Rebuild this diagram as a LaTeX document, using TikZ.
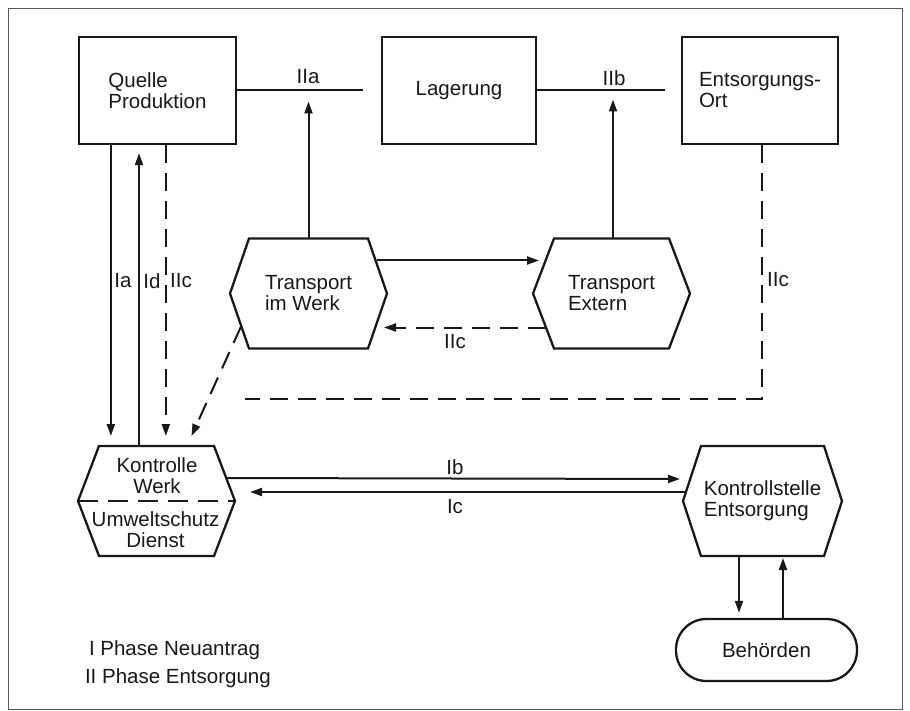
\documentclass[tikz,border=0pt]{standalone}
\usepackage{fontspec}
\setmainfont{Liberation Sans}
\usetikzlibrary{arrows.meta,calc}
\definecolor{ink}{RGB}{25,25,25}
\newcommand\dgfont{\fontsize{20.5}{21}\selectfont}
\newcommand\hexoutline[2]{\draw[line width=2.3pt, line join=miter] ($(#1.north west)+(#2,0)$) -- ($(#1.north east)+(-#2,0)$) -- (#1.east) -- ($(#1.south east)+(-#2,0)$) -- ($(#1.south west)+(#2,0)$) -- (#1.west) -- cycle;}
\begin{document}
\begin{tikzpicture}[x=1pt,y=-1pt, ink, line width=2pt,
  box/.style={draw, line width=2.3pt, minimum width=#1, minimum height=107pt, inner sep=0pt, align=left, font=\dgfont},
  hexbox/.style={minimum width=#1, minimum height=108pt, inner sep=0pt, align=left, font=\dgfont},
  lbl/.style={inner sep=0pt, font=\dgfont},
  arr/.style={-{Triangle[length=12pt,width=8pt]}},
  dsh/.style={dash pattern=on 18pt off 10pt}]
\useasboundingbox (0,0) rectangle (910,711);
\fill[white] (0,0) rectangle (910,711);
\draw[line width=0.8pt, black!65] (8,8) rectangle (902,709);

% boxes
\node[box=157pt] (q) at (157.5,90.5) {Quelle\\Produktion};
\node[box=154pt] (l) at (459,90.5) {Lagerung};
\node[box=156pt] (e) at (760,90.5) {Entsorgungs-\\Ort};

% hexagons
\node[hexbox=155pt] (tw) at (308.5,293.5) {Transport\\im Werk};
\hexoutline{tw}{19}
\node[hexbox=155pt] (te) at (611.5,293.5) {Transport\\Extern};
\hexoutline{te}{21}
\node[hexbox=155pt] (kw) at (156.5,501) {};
\hexoutline{kw}{21}
\node[lbl, align=center] (kwt) at (157,475.5) {Kontrolle\\Werk};
\node[lbl, align=center] (kwb) at (155.5,530) {Umweltschutz\\Dienst};
\draw[line width=2.2pt, dash pattern=on 20pt off 10pt] (kw.west) -- (kw.east);
\node[hexbox=157pt] (ks) at (762.5,501) {Kontrollstelle\\Entsorgung};
\hexoutline{ks}{18}

\node[draw, line width=2.3pt, rounded corners=30.5pt, minimum width=181pt, minimum height=62pt, inner sep=0pt, font=\dgfont] (b) at (766.5,650) {Behörden};

% top lines
\coordinate (endIIa) at (363,90.5);
\coordinate (endIIb) at (665,90.5);
\draw (q.east) -- (endIIa);
\draw (l.east) -- (endIIb);
\node[lbl] (lIIa) at (308,77) {IIa};
\node[lbl] (lIIb) at (614,78) {IIb};
\draw[arr, shorten >=11pt] (tw.north) -- (tw.north |- endIIa);
\draw[arr, shorten >=9pt] ($(te.north)+(1.5,0)$) coordinate (teup) -- (teup |- endIIb);

% transport arrows
\draw[arr] ($(tw.north east)+(-10,22)$) -- ($(te.north west)+(6,22)$);
\draw[arr, dsh] ($(te.south west)+(13,-21)$) -- ($(tw.south east)+(-3,-21)$);
\node[lbl] (lIIc2) at (455,342) {IIc};

% Quelle <-> Kontrolle Werk
\draw[arr, shorten >=10pt] ($(q.south west)+(33,0)$) coordinate (xa) -- (xa |- kw.north);
\draw[arr, shorten >=8pt] ($(kw.north west)+(61,0)$) coordinate (xd) -- (xd |- q.south);
\draw[arr, dsh, shorten >=10pt] ($(q.south west)+(88,0)$) coordinate (xc) -- (xc |- kw.north);
\node[lbl] (lIa) at (123,281) {Ia};
\node[lbl] (lId) at (152,281) {Id};
\node[lbl] (lIIc1) at (181,281) {IIc};
\draw[arr, dsh] ($(tw.south west)+(11,-22)$) -- ($(kw.north)+(35,-10)$);

% Entsorgungs-Ort dashed return
\coordinate (dashend) at (245,399);
\draw[dsh] ($(e.south)+(2,0)$) |- (dashend);
\node[lbl] (lIIc3) at (778,280) {IIc};

% Kontrolle Werk <-> Kontrollstelle
\draw[arr] ($(kw.north east)+(-9,32)$) -- ($(ks.west)+(-3,-22)$);
\draw[arr] ($(ks.west)+(2,-9)$) -- ($(kw.east)+(15,-9)$);
\node[lbl] (lIb) at (455,467) {Ib};
\node[lbl] (lIc) at (455,507) {Ic};

% Kontrollstelle <-> Behoerden
\draw[arr, shorten >=5pt] ($(ks.south)+(-23.5,0)$) coordinate (xs) -- (xs |- b.north);
\draw[arr, shorten >=2pt] ($(b.north)+(16.5,0)$) coordinate (xb) -- (xb |- ks.south);

% legend
\node[lbl, anchor=west] (leg1) at (88,650) {I Phase Neuantrag};
\node[lbl, anchor=west] (leg2) at (84,678) {II Phase Entsorgung};
\end{tikzpicture}
\end{document}
